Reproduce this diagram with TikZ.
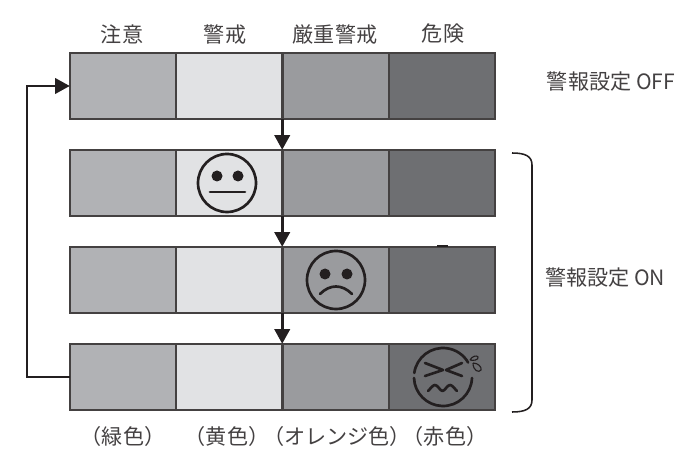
\documentclass[tikz,border=0pt]{standalone}
\usepackage{fontspec}
\setmainfont{Noto Sans CJK JP}
\usetikzlibrary{arrows.meta}
\definecolor{cellgreen}{HTML}{B1B2B5}
\definecolor{cellyellow}{HTML}{E1E2E4}
\definecolor{cellorange}{HTML}{9A9B9E}
\definecolor{cellred}{HTML}{6E6F72}
\definecolor{inkdark}{HTML}{231F20}
\tikzset{
  cellbox/.style={draw=inkdark!85,line width=1.3pt,minimum width=2.66cm,minimum height=1.66cm,inner sep=0pt,outer sep=0pt},
  flow/.style={draw=inkdark,line width=1.9pt,-{Triangle[length=10.5pt,width=11pt]}},
  label/.style={text=inkdark!85,font=\fontsize{15}{17}\selectfont,inner sep=0pt},
  face/.style={draw=inkdark,line width=1.9pt,line cap=round,line join=round},
  drop/.style={draw=inkdark,line width=0.8pt}
}
\begin{document}
\begin{tikzpicture}[x=0.025cm,y=-0.025cm]
\useasboundingbox (0,0) rectangle (689,451);
\node[cellbox,fill=cellgreen] (g1) at (123,86) {};
\node[cellbox,fill=cellyellow] (y1) at (229,86) {};
\node[cellbox,fill=cellorange] (o1) at (336,86) {};
\node[cellbox,fill=cellred] (r1) at (442,86) {};
\node[cellbox,fill=cellgreen] (g2) at (123,183) {};
\node[cellbox,fill=cellyellow] (y2) at (229,183) {};
\node[cellbox,fill=cellorange] (o2) at (336,183) {};
\node[cellbox,fill=cellred] (r2) at (442,183) {};
\node[cellbox,fill=cellgreen] (g3) at (123,280) {};
\node[cellbox,fill=cellyellow] (y3) at (229,280) {};
\node[cellbox,fill=cellorange] (o3) at (336,280) {};
\node[cellbox,fill=cellred] (r3) at (442,280) {};
\node[cellbox,fill=cellgreen] (g4) at (123,377) {};
\node[cellbox,fill=cellyellow] (y4) at (229,377) {};
\node[cellbox,fill=cellorange] (o4) at (336,377) {};
\node[cellbox,fill=cellred] (r4) at (442,377) {};
% labels
\node[label] (t1) at (122,34) {注意};
\node[label] (t2) at (225,34) {警戒};
\node[label] (t3) at (335,34) {厳重警戒};
\node[label] (t4) at (443,34) {危険};
\node[label] (b1) at (123,436) {（緑色）};
\node[label] (b2) at (227,436) {（黄色）};
\node[label] (b3) at (337,436) {（オレンジ色）};
\node[label] (b4) at (445,436) {（赤色）};
\node[label] (off) at (611,82) {警報設定 OFF};
\node[label] (on) at (605,278) {警報設定 ON};
% arrows
\draw[flow] (y1.south east) -- (y2.north east);
\draw[flow] (y2.south east) -- (y3.north east);
\draw[flow] (y3.south east) -- (y4.north east);
\draw[flow] (g4.west) -- (27,377) -- (27,86) -- (g1.west);
% bracket
\draw[draw=inkdark,line width=1.1pt] (512,153) .. controls (525,153) and (532,156) .. (532,165) -- (532,400) .. controls (532,409) and (525,412) .. (512,412);
% faces
\draw[face] (227,183) circle (29);
\fill[inkdark] (217,176) circle (5.5) (238,176) circle (5.5);
\draw[face] (210,192) -- (245,192);
\draw[face] (336,280) circle (29);
\fill[inkdark] (325,274) circle (5.5) (347,274) circle (5.5);
\draw[face] (320,294) .. controls (330,284) and (342,284) .. (352,294);
\draw[face] (443,377) ++(188:29) arc (188:330:29);
\draw[face] (443,377) ++(2:29) arc (2:178:29);
\draw[face] (425,363) -- (443,370) -- (425,376);
\draw[face] (462,363) -- (446,370) -- (462,376);
\draw[face] (428,391) .. controls (431,388) and (433,385) .. (435,385) .. controls (438,385) and (440,391) .. (442.5,391) .. controls (445,391) and (447,385) .. (450,385) .. controls (452,385) and (454,388) .. (457,391);
\draw[drop] (470,360) .. controls (472,356) and (477,355) .. (478,357) .. controls (479,360) and (473,361) .. (470,360);
\draw[drop] (473,363) .. controls (478,363) and (482,367) .. (481,370) .. controls (479,373) and (473,371) .. (473,363);
% small mark on the top edge
\draw[draw=inkdark,line width=1pt] (437,246) -- (448,246);
\end{tikzpicture}
\end{document}
